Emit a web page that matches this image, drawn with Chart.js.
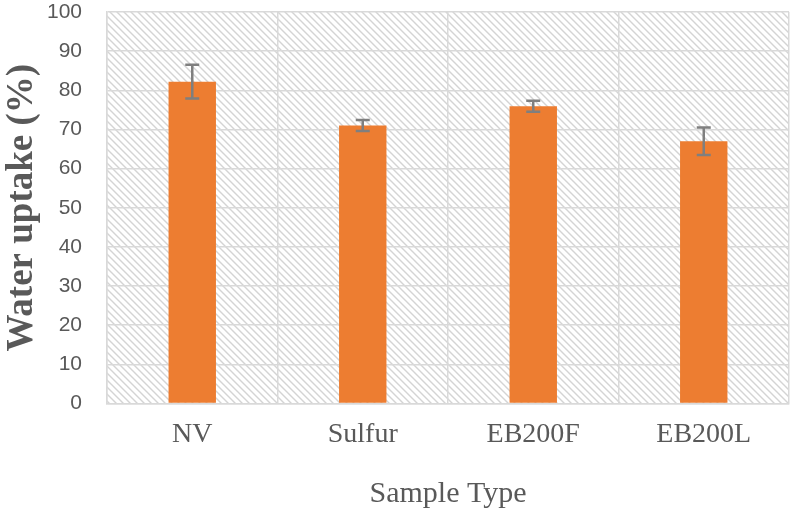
<!DOCTYPE html>
<html>
<head>
<meta charset="utf-8">
<script src="https://cdn.jsdelivr.net/npm/chart.js@4/dist/chart.umd.min.js"></script>
<style>
  html, body { margin: 0; padding: 0; background: #ffffff; }
  #wrap { width: 792px; height: 512px; }
</style>
</head>
<body>
<div id="wrap"><canvas id="uptake-chart" width="792" height="512"></canvas></div>
<script>
// Dữ liệu
const sampleTypes = ["NV", "Sulfur", "EB200F", "EB200L"];
const uptakeValues = [82.2, 71.0, 75.9, 67.0];
const uptakeErrors = [4.3, 1.4, 1.4, 3.5];
const yTicks = [0, 10, 20, 30, 40, 50, 60, 70, 80, 90, 100];

const gridColor = "#d9d9d9";
const textColor = "#595959";

// Tạo mẫu gạch chéo cho nền vùng vẽ
function makeHatch(ctx) {
    const size = 7;
    const tile = document.createElement("canvas");
    tile.width = size;
    tile.height = size;
    const t = tile.getContext("2d");
    t.strokeStyle = "#d4d4d4";
    t.lineWidth = 1.4;
    t.beginPath();
    t.moveTo(-1, -1);
    t.lineTo(size + 1, size + 1);
    t.moveTo(-1, size - 1);
    t.lineTo(1, size + 1);
    t.moveTo(size - 1, -1);
    t.lineTo(size + 1, 1);
    t.stroke();
    return ctx.createPattern(tile, "repeat");
}

const backgroundPlugin = {
    id: "background",
    beforeDraw(chart) {
        const { ctx, chartArea: a } = chart;
        ctx.save();
        ctx.fillStyle = "#ffffff";
        ctx.fillRect(0, 0, chart.width, chart.height);
        ctx.fillStyle = makeHatch(ctx);
        ctx.fillRect(a.left, a.top, a.right - a.left, a.bottom - a.top);
        ctx.restore();
    }
};

// Vẽ thanh sai số
const errorBarPlugin = {
    id: "errorBars",
    afterDatasetsDraw(chart) {
        const { ctx } = chart;
        const yScale = chart.scales.y;
        const meta = chart.getDatasetMeta(0);
        ctx.save();
        ctx.strokeStyle = "#7f7f7f";
        ctx.lineWidth = 2.5;
        meta.data.forEach((bar, i) => {
            const hi = yScale.getPixelForValue(uptakeValues[i] + uptakeErrors[i]);
            const lo = yScale.getPixelForValue(uptakeValues[i] - uptakeErrors[i]);
            const cap = 7;
            ctx.beginPath();
            ctx.moveTo(bar.x, hi);
            ctx.lineTo(bar.x, lo);
            ctx.moveTo(bar.x - cap, hi);
            ctx.lineTo(bar.x + cap, hi);
            ctx.moveTo(bar.x - cap, lo);
            ctx.lineTo(bar.x + cap, lo);
            ctx.stroke();
        });
        ctx.restore();
    }
};

const ctx = document.getElementById("uptake-chart").getContext("2d");

new Chart(ctx, {
    type: "bar",
    data: {
        labels: sampleTypes,
        datasets: [{
            label: "Water uptake",
            data: uptakeValues,
            backgroundColor: "#ed7d31",
            borderWidth: 0,
            categoryPercentage: 1,
            barPercentage: 0.278
        }]
    },
    options: {
        responsive: false,
        animation: false,
        layout: { padding: { top: 12, right: 3, left: 0, bottom: 0 } },
        plugins: {
            legend: { display: false },
            tooltip: { enabled: false }
        },
        scales: {
            x: {
                grid: { color: gridColor, lineWidth: 1.5, drawTicks: false },
                border: { color: gridColor, width: 1.5 },
                ticks: {
                    color: textColor,
                    padding: 14,
                    font: { family: "'Liberation Serif', 'Times New Roman', serif", size: 28 }
                },
                title: {
                    display: true,
                    text: "Sample Type",
                    color: textColor,
                    padding: 0,
                    font: { family: "'Liberation Serif', 'Times New Roman', serif", size: 30 }
                },
                afterFit(scale) {
                    scale.height = 108.5;
                    scale.paddingLeft = 0;
                    scale.paddingRight = 0;
                }
            },
            y: {
                min: 0,
                max: 100,
                afterBuildTicks(scale) { scale.ticks = yTicks.map(v => ({ value: v })); },
                grid: { color: gridColor, lineWidth: 1.5, drawTicks: false },
                border: { color: gridColor, width: 1.5 },
                ticks: {
                    color: textColor,
                    padding: 25,
                    font: { family: "'Liberation Sans', Arial, sans-serif", size: 21 }
                },
                title: {
                    display: true,
                    text: "Water uptake (%)",
                    color: textColor,
                    padding: 0,
                    font: { family: "'Liberation Serif', 'Times New Roman', serif", size: 37, weight: "bold" }
                },
                afterFit(scale) {
                    scale.width = 107;
                    scale.paddingTop = 0;
                    scale.paddingBottom = 0;
                }
            }
        }
    },
    plugins: [backgroundPlugin, errorBarPlugin]
});
</script>
</body>
</html>
